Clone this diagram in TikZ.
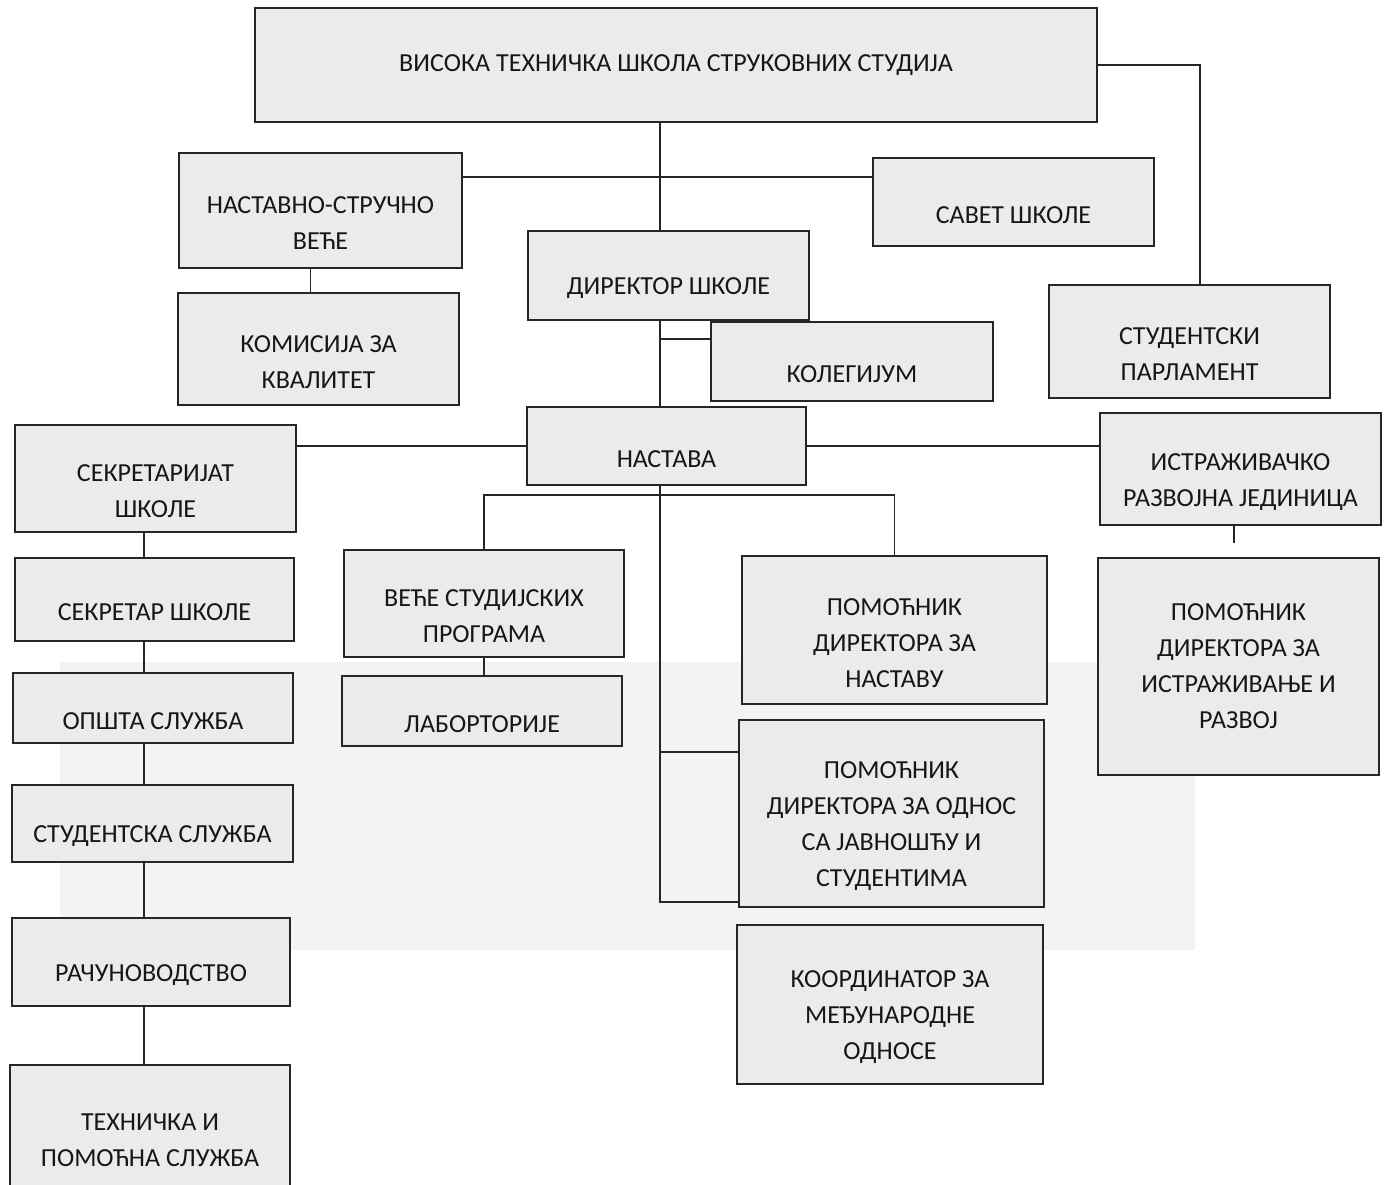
\documentclass[tikz,border=0pt]{standalone}
\usepackage{fontspec}
\setmainfont{Carlito}
\definecolor{ink}{HTML}{161616}
\definecolor{boxfill}{HTML}{EBEBEB}
\definecolor{boxline}{HTML}{262626}
\definecolor{scanband}{HTML}{F3F3F3}

\begin{document}
\begin{tikzpicture}[x=0.02cm,y=-0.02cm,
    unit/.style={draw=boxline,line width=1.2pt,fill=boxfill,minimum width=5.62cm,inner sep=0pt},
    lbl/.style={align=center,text=ink,font=\fontsize{14.8}{20.5}\selectfont,yshift=-0.26cm},
    link/.style={draw=boxline,line width=1pt}]

      \useasboundingbox (0,0) rectangle (1388,1184);
      % faint band left by the scanner
      \fill[scanband] (60,662) rectangle (1195,950);

      % Top of the school
      \node[unit,minimum width=16.84cm,minimum height=2.28cm,
            label={[lbl,yshift=0.26cm]center:ВИСОКА ТЕХНИЧКА ШКОЛА СТРУКОВНИХ СТУДИЈА}] (vts) at (676,65) {};

      % Councils and director
      \node[unit,minimum width=5.66cm,minimum height=2.30cm,label={[lbl]center:НАСТАВНО-СТРУЧНО\\ВЕЋЕ}] (nsv) at (320.5,210.5) {};
      \node[unit,minimum height=1.76cm,label={[lbl]center:САВЕТ ШКОЛЕ}] (savet) at (1013.5,202) {};
      \node[unit,minimum height=1.78cm,label={[lbl]center:ДИРЕКТОР ШКОЛЕ}] (dir) at (668.5,275.5) {};
      \node[unit,minimum height=2.24cm,label={[lbl]center:КОМИСИЈА ЗА\\КВАЛИТЕТ}] (kom) at (318.5,349) {};
      \node[unit,minimum width=5.64cm,minimum height=1.58cm,label={[lbl]center:КОЛЕГИЈУМ}] (koleg) at (852,361.5) {};
      \node[unit,minimum height=2.26cm,label={[lbl]center:СТУДЕНТСКИ\\ПАРЛАМЕНТ}] (sparl) at (1189.5,341.5) {};

      % Teaching row
      \node[unit,minimum width=5.58cm,minimum height=1.56cm,label={[lbl]center:НАСТАВА}] (nast) at (666.5,446) {};
      \node[unit,minimum height=2.14cm,label={[lbl]center:СЕКРЕТАРИЈАТ\\ШКОЛЕ}] (sekr) at (155.5,478.5) {};
      \node[unit,minimum height=2.24cm,label={[lbl]center:ИСТРАЖИВАЧКО\\РАЗВОЈНА ЈЕДИНИЦА}] (ird) at (1240.5,469) {};

      % Left column: secretariat services
      \node[unit,minimum width=5.58cm,minimum height=1.66cm,label={[lbl]center:СЕКРЕТАР ШКОЛЕ}] (sekrs) at (154.5,599.5) {};
      \node[unit,minimum width=5.60cm,minimum height=1.40cm,label={[lbl]center:ОПШТА СЛУЖБА}] (opsta) at (153,708) {};
      \node[unit,minimum height=1.54cm,label={[lbl]center:СТУДЕНТСКА СЛУЖБА}] (stsl) at (152.5,823.5) {};
      \node[unit,minimum width=5.56cm,minimum height=1.76cm,label={[lbl]center:РАЧУНОВОДСТВО}] (rac) at (151,962) {};
      \node[unit,minimum width=5.60cm,minimum height=2.48cm,label={[lbl]center:ТЕХНИЧКА И\\ПОМОЋНА СЛУЖБА}] (teh) at (150,1127) {};

      % Middle: study programmes and assistants
      \node[unit,minimum width=5.60cm,minimum height=2.14cm,label={[lbl]center:ВЕЋЕ СТУДИЈСКИХ\\ПРОГРАМА}] (vsp) at (484,603.5) {};
      \node[unit,minimum width=5.60cm,minimum height=1.40cm,label={[lbl]center:ЛАБОРТОРИЈЕ}] (lab) at (482,711) {};
      \node[unit,minimum width=6.10cm,minimum height=2.96cm,label={[lbl]center:ПОМОЋНИК\\ДИРЕКТОРА ЗА\\НАСТАВУ}] (pdn) at (894.5,630) {};
      \node[unit,minimum width=6.10cm,minimum height=3.74cm,label={[lbl]center:ПОМОЋНИК\\ДИРЕКТОРА ЗА ОДНОС\\СА ЈАВНОШЋУ И\\СТУДЕНТИМА}] (pdj) at (891.5,813.5) {};
      \node[unit,minimum width=6.12cm,minimum height=3.18cm,label={[lbl]center:КООРДИНАТОР ЗА\\МЕЂУНАРОДНЕ\\ОДНОСЕ}] (koord) at (890,1004.5) {};

      % Right: research assistant
      \node[unit,minimum height=4.34cm,label={[lbl,yshift=0.26cm]center:ПОМОЋНИК\\ДИРЕКТОРА ЗА\\ИСТРАЖИВАЊЕ И\\РАЗВОЈ}] (pdir) at (1238.5,666.5) {};

      % junction points
      \coordinate (spine) at (660,177);
      \coordinate (kj) at (660,339);
      \coordinate (bj) at (660,495);
      \coordinate (pj) at (660,752);
      \coordinate (rspine) at (1200,65);
      \coordinate (lspine) at (144,0);
      \coordinate (irdstub) at (1234,543);

      % Connectors
      \draw[link] (vts.south -| spine) -- (dir.north -| spine);
      \draw[link] (nsv.east |- spine) -- (savet.west |- spine);
      \draw[link] (vts.east) -- (rspine) -- (sparl.north -| rspine);
      \draw[link] ([xshift=-0.2cm]nsv.south) -- ([xshift=-0.2cm]nsv.south |- kom.north);
      \draw[link] (dir.south -| spine) -- (nast.north -| spine);
      \draw[link] (kj) -- (kj -| koleg.west);
      \draw[link] (nast.west) -- (nast.west -| sekr.east);
      \draw[link] (nast.east) -- (nast.east -| ird.west);
      \draw[link] (ird.south -| irdstub) -- (irdstub);

      \draw[link] (nast.south -| spine) |- ([yshift=0.12cm]pdj.south west);
      \draw[link] (pj) -- (pj -| pdj.west);
      \draw[link] (vsp.north) -- (vsp.north |- bj) -- (pdn.north |- bj) -- (pdn.north);
      \draw[link] (vsp.south) -- (vsp.south |- lab.north);

      \draw[link] (sekr.south -| lspine) -- (sekrs.north -| lspine);
      \draw[link] (sekrs.south -| lspine) -- (opsta.north -| lspine);
      \draw[link] (opsta.south -| lspine) -- (stsl.north -| lspine);
      \draw[link] (stsl.south -| lspine) -- (rac.north -| lspine);
      \draw[link] (rac.south -| lspine) -- (teh.north -| lspine);

    \end{tikzpicture}
\end{document}
